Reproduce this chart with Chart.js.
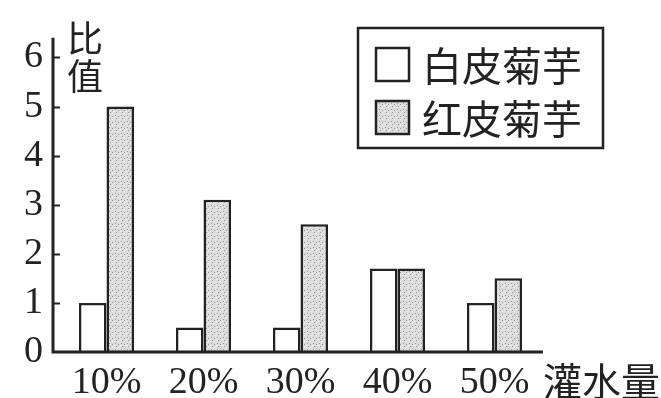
<!DOCTYPE html>
<html>
<head>
<meta charset="utf-8">
<script src="https://cdn.jsdelivr.net/npm/chart.js@4.4.0/dist/chart.umd.min.js"></script>
<style>
html,body{margin:0;padding:0;background:#fff;}
#wrap{width:661px;height:398px;position:relative;}
</style>
</head>
<body>
<div id="wrap"><canvas id="c" width="661" height="398"></canvas></div>
<script>
const categories = ['10%', '20%', '30%', '40%', '50%'];
const whiteValues = [1, 0.5, 0.5, 1.7, 1];
const redValues = [5, 3.1, 2.6, 1.7, 1.5];
const seriesNames = ['白皮菊芋', '红皮菊芋'];
const yTickValues = [0, 1, 2, 3, 4, 5, 6];
const yTitle = ['比', '值'];
const xTitle = '灌水量';

const INK = '#222222';
const SERIF = '"Liberation Serif", "DejaVu Serif", serif';
const CJK = '"Noto Sans CJK SC", "Noto Sans CJK JP", sans-serif';
const AXIS_GAP = 5;

function makePattern() {
  const p = document.createElement('canvas');
  p.width = 6; p.height = 6;
  const g = p.getContext('2d');
  g.fillStyle = '#dcdcdc';
  g.fillRect(0, 0, 6, 6);
  g.fillStyle = '#9a9a9a';
  g.fillRect(1, 1, 1, 1);
  g.fillRect(4, 2, 1, 1);
  g.fillRect(2, 4, 1, 1);
  g.fillStyle = '#f4f4f4';
  g.fillRect(4, 5, 1, 1);
  g.fillRect(0, 3, 1, 1);
  return document.getElementById('c').getContext('2d').createPattern(p, 'repeat');
}
const stipple = makePattern();

const decorPlugin = {
  id: 'decor',
  afterDatasetsDraw(chart) {
    const ctx = chart.ctx;
    const y = chart.scales.y;
    const ca = chart.chartArea;
    const ax = ca.left - AXIS_GAP;
    ctx.save();
    ctx.strokeStyle = INK;
    ctx.lineWidth = 3;
    ctx.beginPath();
    ctx.moveTo(ax, ca.top);
    ctx.lineTo(ax, ca.bottom);
    ctx.lineTo(ca.right, ca.bottom);
    ctx.stroke();
    ctx.restore();
  },
  afterDraw(chart) {
    const ctx = chart.ctx;
    const y = chart.scales.y;
    const x = chart.scales.x;
    const ca = chart.chartArea;
    const ax = ca.left - AXIS_GAP;
    ctx.save();
    // inward ticks on y axis
    ctx.strokeStyle = INK;
    ctx.lineWidth = 2;
    y.ticks.forEach(t => {
      if (t.value === 0) return;
      const py = Math.round(y.getPixelForValue(t.value)) + 0.5;
      ctx.beginPath();
      ctx.moveTo(ax, py);
      ctx.lineTo(ax + 7, py);
      ctx.stroke();
    });
    // y title stacked
    ctx.fillStyle = INK;
    ctx.font = '36px ' + CJK;
    ctx.textAlign = 'center';
    ctx.textBaseline = 'middle';
    yTitle.forEach((ch, i) => ctx.fillText(ch, ax + 32, 38 + i * 38));
    // x title
    ctx.font = '39px ' + CJK;
    ctx.textAlign = 'left';
    ctx.textBaseline = 'middle';
    ctx.fillText(xTitle, ca.right, x.bottom - 17);
    // legend
    const lx = 358, ly = 28, lw = 245, lh = 120;
    ctx.lineWidth = 2.5;
    ctx.strokeStyle = INK;
    ctx.strokeRect(lx, ly, lw, lh);
    chart.data.datasets.forEach((ds, i) => {
      const ry = ly + 37 + i * 53;
      ctx.fillStyle = ds.backgroundColor;
      ctx.fillRect(lx + 18, ry - 17, 33, 33);
      ctx.lineWidth = 2.5;
      ctx.strokeStyle = INK;
      ctx.strokeRect(lx + 18, ry - 17, 33, 33);
      ctx.fillStyle = INK;
      ctx.font = '40px ' + CJK;
      ctx.textAlign = 'left';
      ctx.textBaseline = 'middle';
      ctx.fillText(ds.label, lx + 64, ry + 1);
    });
    ctx.restore();
  }
};

new Chart(document.getElementById('c'), {
  type: 'bar',
  data: {
    labels: categories,
    datasets: [
      { label: seriesNames[0], data: whiteValues, backgroundColor: '#ffffff', borderColor: INK, borderWidth: 2.5 },
      { label: seriesNames[1], data: redValues, backgroundColor: stipple, borderColor: INK, borderWidth: 2.5 }
    ]
  },
  options: {
    responsive: false,
    animation: false,
    events: [],
    layout: { padding: { top: 32, right: 118, left: 0, bottom: 0 } },
    datasets: { bar: { barPercentage: 1, categoryPercentage: 0.567 } },
    plugins: { legend: { display: false }, tooltip: { enabled: false } },
    scales: {
      x: {
        grid: { display: false, drawTicks: false },
        border: { display: false },
        ticks: { color: INK, font: { family: SERIF, size: 38 }, padding: 8, maxRotation: 0 },
        afterFit(s) { s.height = 46; }
      },
      y: {
        min: 0,
        max: 6.4,
        grid: { display: false, drawTicks: false },
        border: { display: false },
        ticks: { color: INK, font: { family: SERIF, size: 38 }, padding: 10 + AXIS_GAP },
        afterBuildTicks(s) { s.ticks = yTickValues.map(v => ({ value: v })); },
        afterFit(s) { s.width = 53 + AXIS_GAP; }
      }
    }
  },
  plugins: [decorPlugin]
});
</script>
</body>
</html>
